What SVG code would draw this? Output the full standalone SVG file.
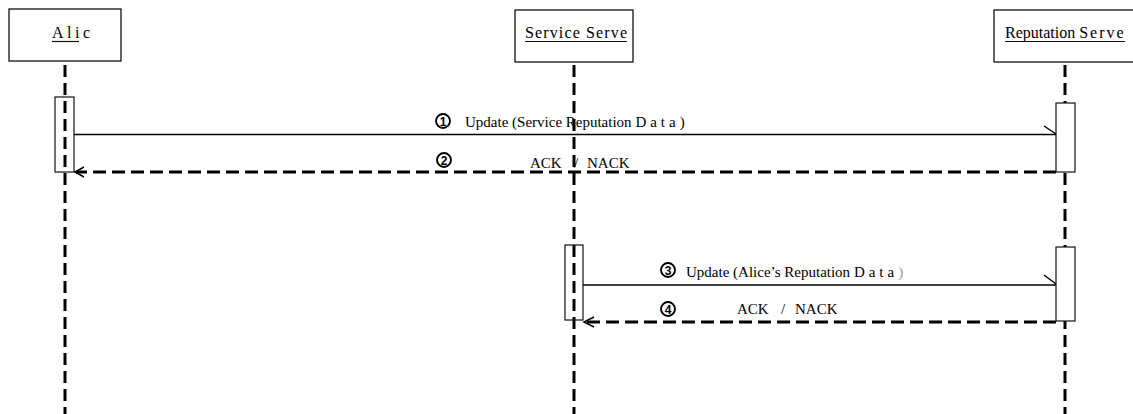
<svg xmlns="http://www.w3.org/2000/svg" width="1133" height="414" viewBox="0 0 1133 414">
<style>
.box{fill:#fff;stroke:#111;stroke-width:1.3}
.act{fill:none;stroke:#111;stroke-width:1.2}
.actw{fill:#fff;stroke:#111;stroke-width:1.2}
.life{stroke:#000;stroke-width:3;stroke-dasharray:12 6;fill:none}
.ul{stroke:#111;stroke-width:1.2}
.t{font-family:"Liberation Serif","Times New Roman",serif;font-size:16px;fill:#000}
.m{font-family:"Liberation Serif","Times New Roman",serif;font-size:15px;fill:#000}
.sync{stroke:#000;stroke-width:1.3;fill:none}
.ret{stroke:#000;stroke-width:3;stroke-dasharray:13 6;fill:none}
.head{stroke:#000;stroke-width:1.5;fill:none}
.num{fill:#fff;stroke:#000;stroke-width:1.9}
.nt{font-family:"Liberation Sans",Arial,sans-serif;font-size:12px;font-weight:bold;fill:#000;text-anchor:middle}
</style>
<defs>
<clipPath id="aliceclip"><rect x="10" y="10" width="82" height="50"/></clipPath>
</defs>
<g id="alice">
<rect class="box" x="9" y="9" width="112" height="52"/>
<text class="t" x="52" y="38" letter-spacing="3.5" clip-path="url(#aliceclip)">Alice</text>
<line class="ul" x1="52" y1="41.5" x2="79" y2="41.5"/>
<line class="life" x1="65" y1="65" x2="65" y2="414"/>
<rect class="act" x="55" y="97" width="19" height="75"/>
</g>
<g id="service">
<rect class="box" x="515" y="10" width="118" height="52"/>
<text class="t" x="525" y="38" textLength="102" lengthAdjust="spacing">Service  Serve</text>
<line class="ul" x1="525" y1="41.5" x2="627" y2="41.5"/>
<line class="life" x1="574" y1="65" x2="574" y2="414"/>
<rect class="act" x="565" y="245" width="18" height="75"/>
</g>
<g id="reputation">
<rect class="box" x="994" y="10" width="150" height="52"/>
<text class="t" x="1005" y="38">Reputation <tspan letter-spacing="2">Serve</tspan></text>
<line class="ul" x1="1005" y1="41.5" x2="1125" y2="41.5"/>
<line class="life" x1="1065" y1="65" x2="1065" y2="414"/>
<rect class="actw" x="1056" y="103" width="19" height="69"/>
<rect class="actw" x="1056" y="247" width="19" height="74"/>
</g>
<g id="connectors">
<g id="msg1">
<line class="sync" x1="74" y1="134.5" x2="1056" y2="134.5"/>
<polyline class="head" points="1044,126 1056,134"/>
<circle class="num" cx="443" cy="121" r="7"/>
<text class="nt" x="443" y="125.5">1</text>
<text class="m" x="465" y="127">Update (Service Reputation <tspan letter-spacing="4">Data)</tspan></text>
</g>
<g id="msg2">
<line class="ret" x1="1056" y1="172" x2="76" y2="172"/>
<polyline class="head" points="84,167 75,172 84,177"/>
<circle class="num" cx="444" cy="160" r="7"/>
<text class="nt" x="444" y="164.5">2</text>
<text class="m" y="168"><tspan x="530">ACK</tspan><tspan x="574">/</tspan><tspan x="587">NACK</tspan></text>
</g>
<g id="msg3">
<line class="sync" x1="583" y1="285" x2="1056" y2="285"/>
<polyline class="head" points="1044,275 1056,284"/>
<circle class="num" cx="668" cy="270" r="7"/>
<text class="nt" x="668" y="274.5">3</text>
<text class="m" x="686" y="277">Update (Alice’s Reputation <tspan letter-spacing="4">Data</tspan><tspan fill="#999">)</tspan></text>
</g>
<g id="msg4">
<line class="ret" x1="1056" y1="322" x2="585" y2="322"/>
<polyline class="head" points="594,317 584,322 594,327"/>
<circle class="num" cx="668" cy="309" r="7"/>
<text class="nt" x="668" y="313.5">4</text>
<text class="m" y="314"><tspan x="737">ACK</tspan><tspan x="781">/</tspan><tspan x="795">NACK</tspan></text>
</g>
</g>
</svg>
